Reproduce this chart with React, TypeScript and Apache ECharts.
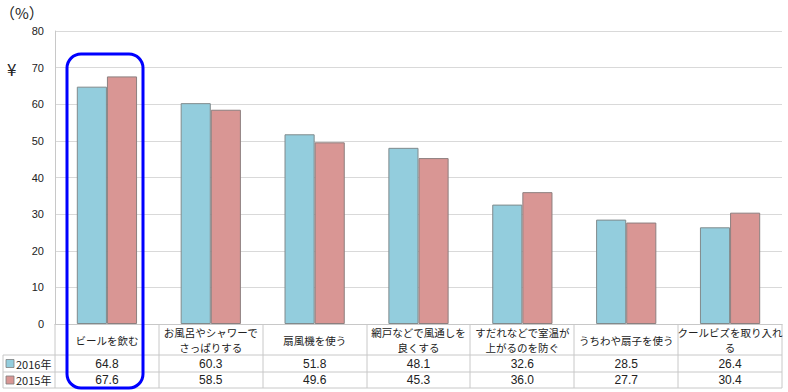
import React, { useEffect, useRef } from "react";
import * as echarts from "echarts";

const categories = [
  "ビールを飲む",
  "お風呂やシャワーで\nさっぱりする",
  "扇風機を使う",
  "網戸などで風通しを\n良くする",
  "すだれなどで室温が\n上がるのを防ぐ",
  "うちわや扇子を使う",
  "クールビズを取り入れ\nる",
];
const series2016 = [64.8, 60.3, 51.8, 48.1, 32.6, 28.5, 26.4];
const series2015 = [67.6, 58.5, 49.6, 45.3, 36.0, 27.7, 30.4];
const seriesNames = ["2016年", "2015年"];
const yTicks = { min: 0, max: 80, interval: 10 };

const W = 788;
const H = 392;
const GL = 55;
const GR = 782;
const GT = 31;
const GB = 324;
const ROW1 = 355;
const ROW2 = 372;
const ROW3 = 388;
const TL = 3;

const BLUE = "#93CDDD";
const RED = "#D99694";
const LINE = "#c8c8c8";
const JP = "'Noto Sans CJK JP', 'Noto Sans', sans-serif";

export default function App() {
  const ref = useRef<HTMLDivElement>(null);
  useEffect(() => {
    if (!ref.current) return;
    const chart = echarts.init(ref.current, undefined, { renderer: "svg" });
    const colW = (GR - GL) / categories.length;
    const lines: any[] = [];
    [ROW1, ROW2, ROW3].forEach((y) =>
      lines.push({ type: "line", shape: { x1: TL, y1: y, x2: GR, y2: y }, style: { stroke: LINE, lineWidth: 1 } })
    );
    lines.push({ type: "line", shape: { x1: TL, y1: ROW1, x2: TL, y2: ROW3 }, style: { stroke: LINE, lineWidth: 1 } });
    for (let k = 0; k <= categories.length; k++) {
      const x = Math.round(GL + colW * k);
      lines.push({ type: "line", shape: { x1: x, y1: GB, x2: x, y2: ROW3 }, style: { stroke: LINE, lineWidth: 1 } });
    }
    const legendRow = (y: number, color: string, name: string) => ({
      type: "group",
      children: [
        { type: "rect", shape: { x: 6, y: y - 4, width: 8, height: 8 }, style: { fill: color, stroke: "#7f7f7f", lineWidth: 0.8 } },
        { type: "text", x: 16, y, style: { text: name, fill: "#222", font: `11px ${JP}`, verticalAlign: "middle", align: "left" } },
      ],
    });
    const labelAxis = (data: string[], margin: number) => ({
      type: "category",
      data,
      gridIndex: 0,
      position: "bottom",
      axisLine: { show: false },
      axisTick: { show: false },
      axisLabel: {
        margin,
        interval: 0,
        verticalAlign: "middle",
        color: "#222",
        fontSize: 12,
        fontFamily: "'Liberation Sans', 'Noto Sans', sans-serif",
      },
    });
    chart.setOption({
      animation: false,
      grid: { left: GL, right: W - GR, top: GT, bottom: H - GB, containLabel: false },
      xAxis: [
        {
          type: "category",
          data: categories,
          axisLine: { show: true, lineStyle: { color: LINE } },
          axisTick: { show: false },
          axisLabel: {
            interval: 0,
            margin: 16,
            verticalAlign: "middle",
            color: "#222",
            fontSize: 10.5,
            lineHeight: 15,
            fontFamily: JP,
          },
        },
        labelAxis(series2016.map((v) => v.toFixed(1)), ROW1 - GB + (ROW2 - ROW1) / 2),
        labelAxis(series2015.map((v) => v.toFixed(1)), ROW2 - GB + (ROW3 - ROW2) / 2),
      ],
      yAxis: {
        type: "value",
        min: yTicks.min,
        max: yTicks.max,
        interval: yTicks.interval,
        axisLine: { show: true, lineStyle: { color: LINE } },
        axisTick: { show: false },
        splitLine: { lineStyle: { color: "#d9d9d9", width: 1 } },
        axisLabel: { margin: 11, color: "#222", fontSize: 11, fontFamily: "'Liberation Sans', Arial, sans-serif" },
      },
      series: [
        {
          name: seriesNames[0],
          type: "bar",
          data: series2016,
          barGap: "0%",
          barCategoryGap: "42%",
          itemStyle: { color: BLUE, borderColor: "#808a8c", borderWidth: 1 },
        },
        {
          name: seriesNames[1],
          type: "bar",
          data: series2015,
          barGap: "0%",
          barCategoryGap: "42%",
          itemStyle: { color: RED, borderColor: "#8c7f7f", borderWidth: 1 },
        },
      ],
      graphic: [
        ...lines,
        legendRow((ROW1 + ROW2) / 2, BLUE, seriesNames[0]),
        legendRow((ROW2 + ROW3) / 2, RED, seriesNames[1]),
        { type: "text", x: 0, y: 12, style: { text: "（%）", fill: "#222", font: `15px ${JP}`, verticalAlign: "middle" } },
        { type: "text", x: 7, y: 68, style: { text: "¥", fill: "#222", font: `17px ${JP}`, verticalAlign: "middle" } },
        {
          type: "rect",
          shape: { x: 67, y: 54, width: 76, height: 334, r: 14 },
          style: { fill: "none", stroke: "#0000ff", lineWidth: 3 },
          z: 100,
        },
      ],
    });
    return () => chart.dispose();
  }, []);
  return <div ref={ref} style={{ width: W, height: H, position: "absolute", left: 0, top: 0 }} />;
}
